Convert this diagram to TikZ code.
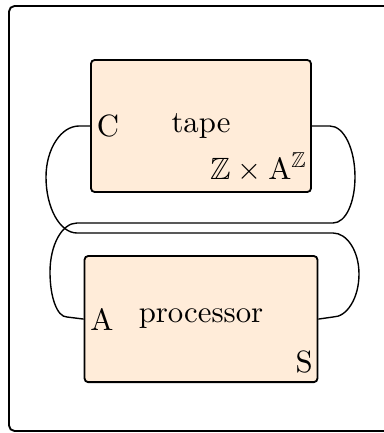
\documentclass[tikz,border=0pt]{standalone}
\usepackage{amsmath,amssymb}
\usepackage{tikz}
\usetikzlibrary{positioning}

\begin{document}
\begin{tikzpicture}[x=0.325pt,y=-0.325pt,node distance=20.2pt,thin]
  \tikzstyle{box}=[draw=black,fill=orange!15,semithick,rounded corners=1.2pt,inner sep=0pt]
  \tikzstyle{port}=[inner sep=2pt]
  \tikzstyle{wire}=[line width=0.45pt]

  \useasboundingbox (0,0) rectangle (384,433);
  \draw[semithick,rounded corners=1.8pt] (9,6) rectangle (396,431);

  \node[box,minimum width=71.5pt,minimum height=42.9pt] (tape) at (201,126) {tape};
  \node[box,minimum width=75.7pt,minimum height=41pt]   (proc) [below=of tape] {processor};

  \node[port,anchor=west] (C) at (tape.west) {C};
  \node[anchor=base east,inner sep=0pt] (conf) at ([xshift=-1.3pt,yshift=4.5pt]tape.south east) {$\mathbb{Z}\times\mathrm{A}^{\mathbb{Z}}$};
  \node[port,anchor=west] (A) at (proc.west) {A};
  \node[anchor=base east,inner sep=0pt] (S) at ([xshift=-1.6pt,yshift=3.6pt]proc.south east) {S};

  % tape -> processor
  \draw[wire] (tape.east) -- (330,126)
        .. controls +(14,0) and +(0,-28) .. (355,177)
        .. controls +(0,25) and +(13,0) .. (333,223)
        -- (77,223)
        .. controls +(-15,0) and +(0,-27) .. (50,272)
        .. controls +(0,25) and +(-10,0) .. (67,317) -- (proc.west);
  % processor -> tape
  \draw[wire] (tape.west) -- (79,126)
        .. controls +(-18,0) and +(0,-28) .. (46,177)
        .. controls +(0,31) and +(-17,0) .. (77,233)
        -- (333,233)
        .. controls +(14,0) and +(0,-23) .. (359,274)
        .. controls +(0,24) and +(14,0) .. (333,317) -- (proc.east);
\end{tikzpicture}
\end{document}
